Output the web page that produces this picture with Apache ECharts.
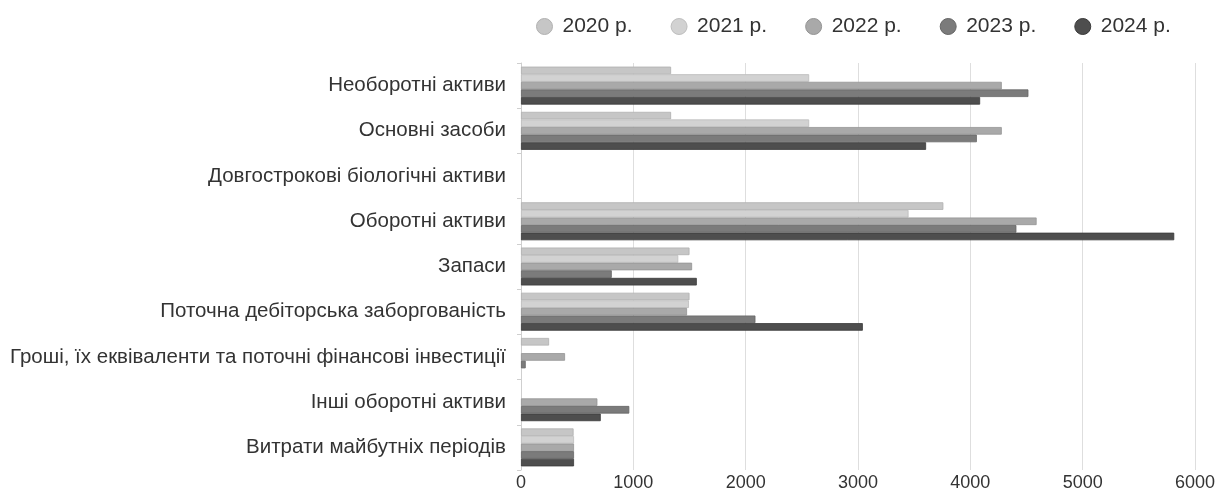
<!DOCTYPE html>
<html><head><meta charset="utf-8">
<script src="https://cdn.jsdelivr.net/npm/echarts@6/dist/echarts.min.js"></script>
<style>html,body{margin:0;padding:0;background:#fff}#c{width:1228px;height:495px}</style>
</head><body><div id="c"></div>
<script>
const categories = [
  'Необоротні активи',
  'Основні засоби',
  'Довгострокові біологічні активи',
  'Оборотні активи',
  'Запаси',
  'Поточна дебіторська заборгованість',
  'Гроші, їх еквіваленти та поточні фінансові інвестиції',
  'Інші оборотні активи',
  'Витрати майбутніх періодів'
];
const seriesNames = ['2020 р.', '2021 р.', '2022 р.', '2023 р.', '2024 р.'];
const v2020 = [1336, 1336, 0, 3760, 1500, 1500, 250, 0, 468];
const v2021 = [2565, 2565, 0, 3450, 1400, 1495, 0, 0, 472];
const v2022 = [4280, 4280, 0, 4590, 1523, 1478, 392, 680, 472];
const v2023 = [4517, 4058, 0, 4410, 808, 2087, 42, 964, 472];
const v2024 = [4087, 3606, 0, 5815, 1565, 3043, 0, 710, 472];
const xTicks = [0, 1000, 2000, 3000, 4000, 5000, 6000];

const values = [v2020, v2021, v2022, v2023, v2024];
const colors = ['#c6c6c6', '#d2d2d2', '#a9a9a9', '#7b7b7b', '#4e4e4e'];
const borders = ['#b0b0b0', '#bdbdbd', '#949494', '#666666', '#3a3a3a'];
const font = 'Liberation Sans, Arial, sans-serif';

const chart = echarts.init(document.getElementById('c'), null, {renderer: 'canvas'});
chart.setOption({
  animation: false,
  color: colors,
  textStyle: {fontFamily: font},
  legend: {
    left: 531, top: 11,
    itemGap: 38,
    icon: 'circle', itemWidth: 16, itemHeight: 16,
    textStyle: {fontSize: 21, color: '#333', fontFamily: font, padding: [0, 0, 0, 5]},
    data: seriesNames.map((n, i) => ({name: n, itemStyle: {borderColor: borders[i], borderWidth: 1}}))
  },
  grid: {left: 521, right: 33, top: 63, bottom: 25, containLabel: false},
  xAxis: {
    type: 'value', min: xTicks[0], max: xTicks[xTicks.length - 1], interval: 1000,
    axisLine: {show: false}, axisTick: {show: false},
    splitLine: {show: true, lineStyle: {color: '#dedede', width: 1}},
    axisLabel: {fontSize: 18, color: '#333', margin: 4, fontFamily: font,
      formatter: v => String(v)}
  },
  yAxis: {
    type: 'category', inverse: true, data: categories,
    axisLine: {show: true, lineStyle: {color: '#cfcfcf'}},
    axisTick: {show: true, length: 4, lineStyle: {color: '#cfcfcf'}},
    axisLabel: {fontSize: 20.5, color: '#333', margin: 15, fontFamily: font}
  },
  series: seriesNames.map((n, i) => ({
    name: n, type: 'bar',
    data: values[i].map(v => v === 0 ? {value: v, itemStyle: {borderWidth: 0}} : v),
    barGap: '0%', barCategoryGap: '16%',
    itemStyle: {color: colors[i], borderColor: borders[i], borderWidth: 0.8}
  }))
});
</script></body></html>
